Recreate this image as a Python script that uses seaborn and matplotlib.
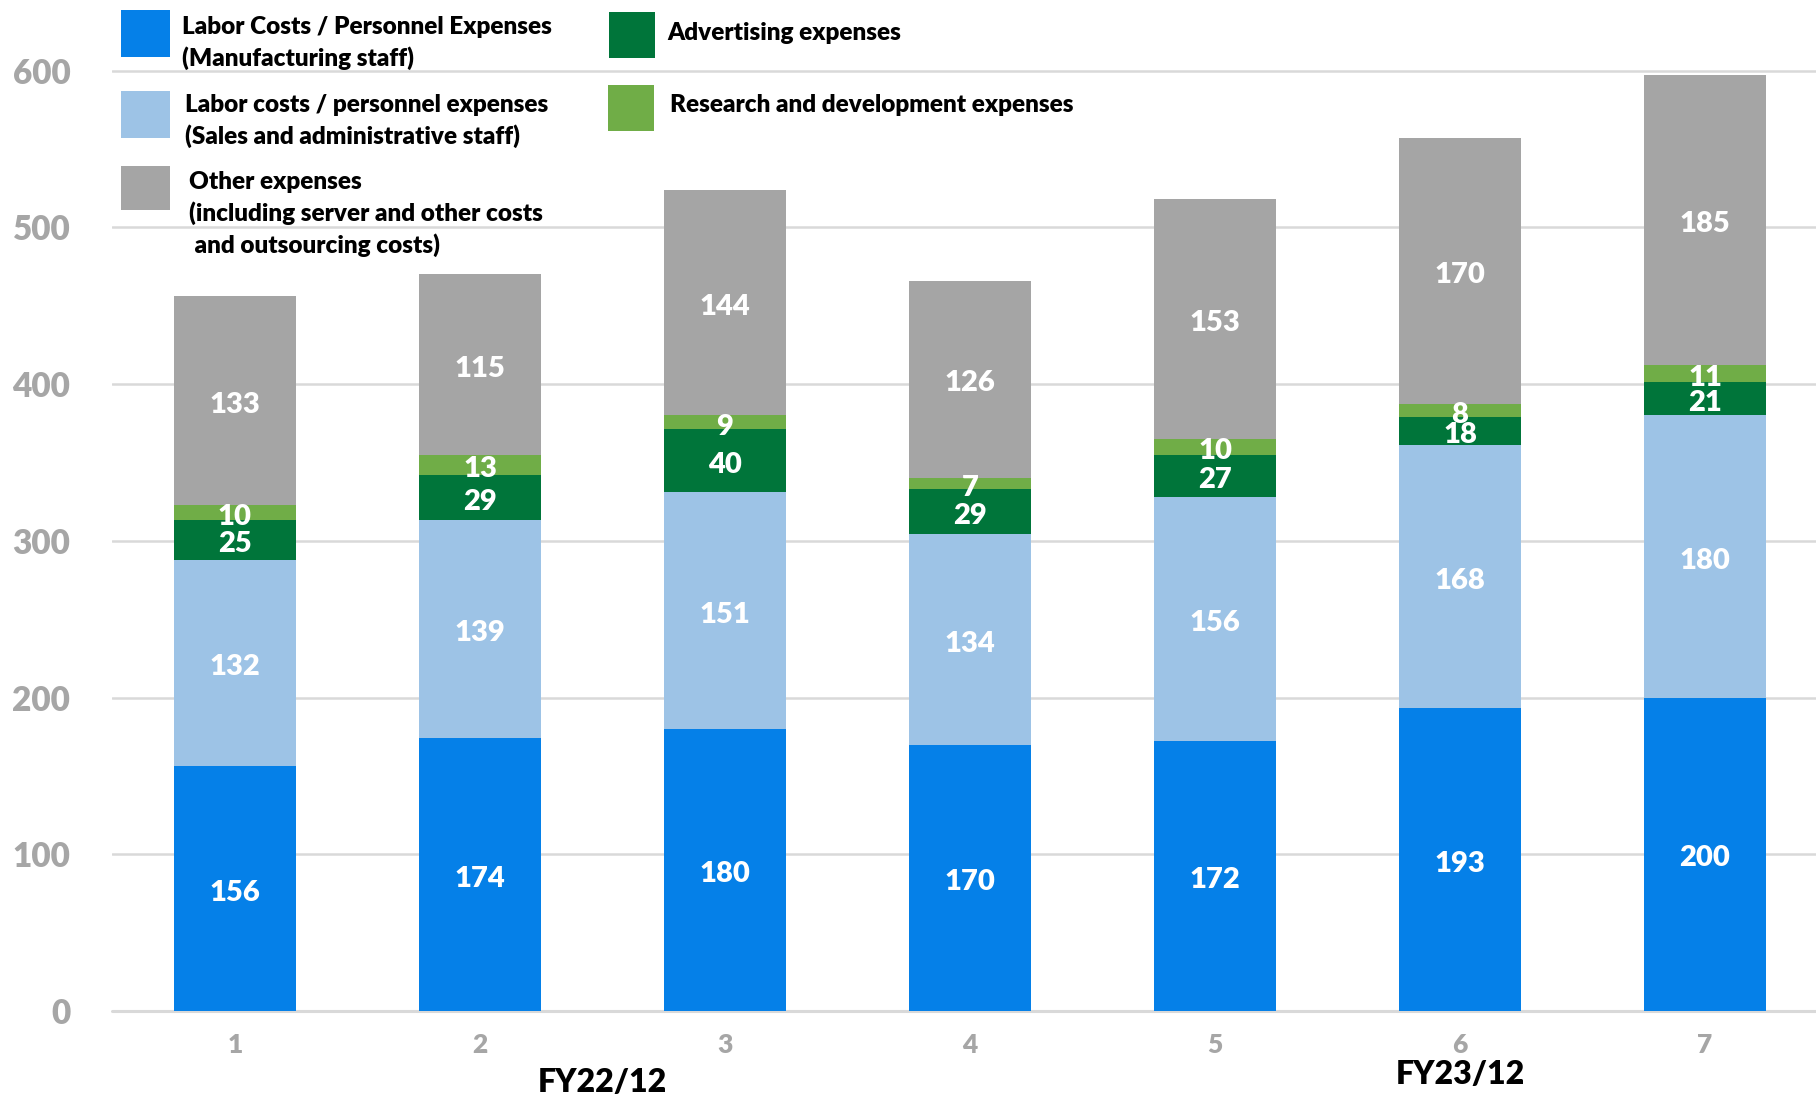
import numpy as np
import matplotlib
matplotlib.use("Agg")
import matplotlib.pyplot as plt
import seaborn as sns
from matplotlib.patches import Rectangle
from matplotlib.transforms import blended_transform_factory

# ---------------- data ----------------
periods = ["1", "2", "3", "4", "5", "6", "7"]
labor_mfg = [156, 174, 180, 170, 172, 193, 200]
labor_sga = [132, 139, 151, 134, 156, 168, 180]
advertising = [25, 29, 40, 29, 27, 18, 21]
rnd = [10, 13, 9, 7, 10, 8, 11]
other = [133, 115, 144, 126, 153, 170, 185]

fiscal_labels = ["FY22/12", "FY23/12"]
fiscal_centers = [1.5, 5.0]
y_ticks = [0, 100, 200, 300, 400, 500, 600]

series_names = [
    "Labor Costs / Personnel Expenses\n(Manufacturing staff)",
    "Labor costs / personnel expenses\n(Sales and administrative staff)",
    "Advertising expenses",
    "Research and development expenses",
    "Other expenses\n(including server and other costs\n and outsourcing costs)",
]
series_values = [labor_mfg, labor_sga, advertising, rnd, other]
series_colors = ["#0580E8", "#9DC3E6", "#00753A", "#70AD47", "#A5A5A5"]

# ---------------- style ----------------
sns.set_style("white")
plt.rcParams["font.family"] = ["Lato", "DejaVu Sans"]
plt.rcParams["font.weight"] = "heavy"
WEIGHT = "heavy"

W, H = 1816, 1094
fig = plt.figure(figsize=(W / 100, H / 100), dpi=100)
ax = fig.add_axes([112 / W, 83 / H, (W - 112) / W, 1011 / H])

# stacked bars (draw cumulative totals from top layer down)
cum = np.zeros(len(periods))
tops = []
bottoms = []
for vals in series_values:
    bottoms.append(cum.copy())
    cum = cum + np.array(vals)
    tops.append(cum.copy())

for top, col in reversed(list(zip(tops, series_colors))):
    sns.barplot(x=periods, y=top, order=periods, color=col, width=0.5,
                saturation=1, errorbar=None, linewidth=0, ax=ax)

# value labels
for vals, bot in zip(series_values, bottoms):
    for i, (v, b) in enumerate(zip(vals, bot)):
        ax.annotate(str(v), xy=(i, b + v / 2), xytext=(0, -3),
                    textcoords="offset points", ha="center", va="center",
                    color="white", fontsize=21, fontweight=WEIGHT, zorder=5)

ax.set_xlim(-0.502, 6.453)
ax.set_ylim(0, 645)
ax.set_yticks(y_ticks)
ax.set_xlabel("")
ax.set_ylabel("")
for s in ax.spines.values():
    s.set_visible(False)
ax.yaxis.grid(True, color="#D9D9D9", linewidth=1.8)
ax.xaxis.grid(False)
ax.set_axisbelow(True)
ax.axhline(0, color="#D9D9D9", linewidth=2.2, clip_on=False, zorder=0.5)

ax.tick_params(axis="y", length=0, pad=30, labelsize=24, labelcolor="#A6A6A6")
ax.tick_params(axis="x", length=0, pad=16, labelsize=19, labelcolor="#A6A6A6")
for lab in ax.get_xticklabels() + ax.get_yticklabels():
    lab.set_fontweight(WEIGHT)

# fiscal-year labels
tr = blended_transform_factory(ax.transData, fig.transFigure)
fy_y = [1 - 1082 / H, 1 - 1075 / H]
for lab, xc, yy in zip(fiscal_labels, fiscal_centers, fy_y):
    ax.text(xc, yy, lab, transform=tr, ha="center", va="center",
            fontsize=23, fontweight=WEIGHT, color="black")

# ---------------- legend (custom layout) ----------------
def fx(px):
    return px / W

def fy(py):
    return 1 - py / H

legend_boxes = [
    (121, 10, 49, 47),
    (121, 91, 49, 47),
    (609, 12, 46, 46),
    (608, 85, 46, 46),
    (121, 166, 49, 44),
]
legend_text_pos = [
    (182, [27, 58]),
    (185, [105, 136]),
    (667, [33]),
    (670, [105]),
    (189, [182, 213, 245]),
]
for name, col, (bx, by, bw, bh), (tx, tys) in zip(series_names, series_colors,
                                                   legend_boxes, legend_text_pos):
    fig.patches.append(Rectangle((fx(bx), fy(by + bh)), bw / W, bh / H,
                                 transform=fig.transFigure, color=col,
                                 linewidth=0))
    for line, ty in zip(name.split("\n"), tys):
        fig.text(fx(tx), fy(ty), line, ha="left", va="center",
                 fontsize=17.5, fontweight=WEIGHT, color="black")

fig.savefig("out.png", dpi=100)
